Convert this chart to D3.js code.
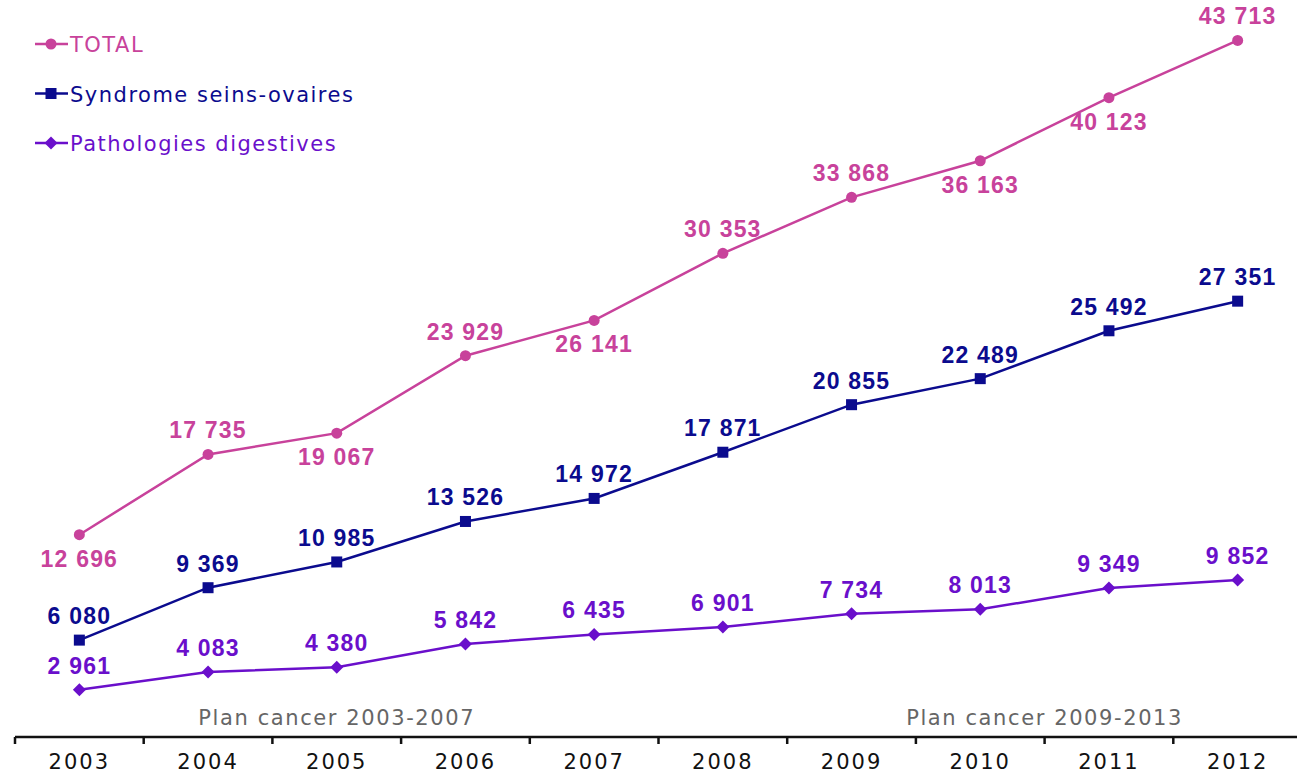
<!doctype html>
<html>
<head>
<meta charset="utf-8">
<script src="https://d3js.org/d3.v7.min.js"></script>
<style>
  body { margin: 0; background: #fff; }
  .val { font-family: "Liberation Sans", Arial, sans-serif; font-weight: bold; font-size: 23px; letter-spacing: 1.2px; }
  .leg { font-family: "DejaVu Sans", Verdana, sans-serif; font-size: 21px; letter-spacing: 1.5px; }
  .plan { font-family: "DejaVu Sans", Verdana, sans-serif; font-size: 21px; letter-spacing: 1.6px; fill: #666; }
  .axis text { font-family: "DejaVu Sans", Verdana, sans-serif; font-size: 21px; letter-spacing: 2px; fill: #111; }
</style>
</head>
<body>
<svg width="1297" height="775"></svg>
<script>
var years = ["2003", "2004", "2005", "2006", "2007", "2008", "2009", "2010", "2011", "2012"];
var total = [12696, 17735, 19067, 23929, 26141, 30353, 33868, 36163, 40123, 43713];
var seins = [6080, 9369, 10985, 13526, 14972, 17871, 20855, 22489, 25492, 27351];
var digest = [2961, 4083, 4380, 5842, 6435, 6901, 7734, 8013, 9349, 9852];
// label above (1) or below (-1) for the TOTAL series
var totalSide = [-1, 1, -1, 1, -1, 1, 1, -1, -1, 1];
var seriesNames = ["TOTAL", "Syndrome seins-ovaires", "Pathologies digestives"];
// plan label, year band and where in the band (0 = left edge, 0.5 = centre)
var plans = [["Plan cancer 2003-2007", "2005", 0.5], ["Plan cancer 2009-2013", "2011", 0]];

var svg = d3.select("svg");
var x = d3.scaleBand().domain(years).range([15, 1302]);
var y = d3.scaleLinear().domain([0, 46000]).range([737, 4]);
var fmt = function(v) { return d3.format(",")(v).replace(",", " "); };

var series = [
  { name: seriesNames[0], values: total, color: "#C8429B", marker: "circle" },
  { name: seriesNames[1], values: seins, color: "#0B0B8E", marker: "square" },
  { name: seriesNames[2], values: digest, color: "#6A0FCB", marker: "diamond" }
];

function drawMarker(g, type, color) {
  if (type == "circle") g.append("circle").attr("r", 5.5).attr("fill", color);
  else if (type == "square") g.append("rect").attr("x", -5.5).attr("y", -5.5).attr("width", 11).attr("height", 11).attr("fill", color);
  else g.append("path").attr("d", "M0,-6.5L6.5,0L0,6.5L-6.5,0Z").attr("fill", color);
}

// axis
var axis = svg.append("g").attr("class", "axis").attr("transform", "translate(0,737)");
axis.append("line").attr("x1", 15).attr("x2", 1297).attr("stroke", "#111").attr("stroke-width", 2.5);
axis.selectAll(".tk").data(years).enter().append("line")
  .attr("x1", function(d) { return x(d); }).attr("x2", function(d) { return x(d); })
  .attr("y1", 0).attr("y2", 7).attr("stroke", "#111").attr("stroke-width", 2.5);
axis.selectAll("text").data(years).enter().append("text")
  .attr("x", function(d) { return x(d) + x.bandwidth() / 2; })
  .attr("y", 32).attr("text-anchor", "middle").text(function(d) { return d; });

// plan labels
svg.selectAll(".plan").data(plans).enter().append("text").attr("class", "plan")
  .attr("x", function(d) { return x(d[1]) + x.bandwidth() * d[2]; })
  .attr("y", 725).attr("text-anchor", "middle").text(function(d) { return d[0]; });

var line = d3.line()
  .x(function(d, i) { return x(years[i]) + x.bandwidth() / 2; })
  .y(function(d) { return y(d); });

series.forEach(function(s, si) {
  svg.append("path").attr("d", line(s.values)).attr("fill", "none")
    .attr("stroke", s.color).attr("stroke-width", 2.5);
  s.values.forEach(function(v, i) {
    var cx = x(years[i]) + x.bandwidth() / 2, cy = y(v);
    var g = svg.append("g").attr("transform", "translate(" + cx + "," + cy + ")");
    drawMarker(g, s.marker, s.color);
    var side = si == 0 ? totalSide[i] : 1;
    svg.append("text").attr("class", "val").attr("fill", s.color)
      .attr("x", cx).attr("y", side > 0 ? cy - 16 : cy + 32)
      .attr("text-anchor", "middle").text(fmt(v));
  });
  // legend
  var ly = 44 + si * 49.5;
  svg.append("line").attr("x1", 35).attr("x2", 68).attr("y1", ly).attr("y2", ly)
    .attr("stroke", s.color).attr("stroke-width", 2.5);
  var lg = svg.append("g").attr("transform", "translate(51," + ly + ")");
  drawMarker(lg, s.marker, s.color);
  svg.append("text").attr("class", "leg").attr("fill", s.color)
    .attr("x", 70).attr("y", ly + 8).text(s.name);
});
</script>
</body>
</html>
